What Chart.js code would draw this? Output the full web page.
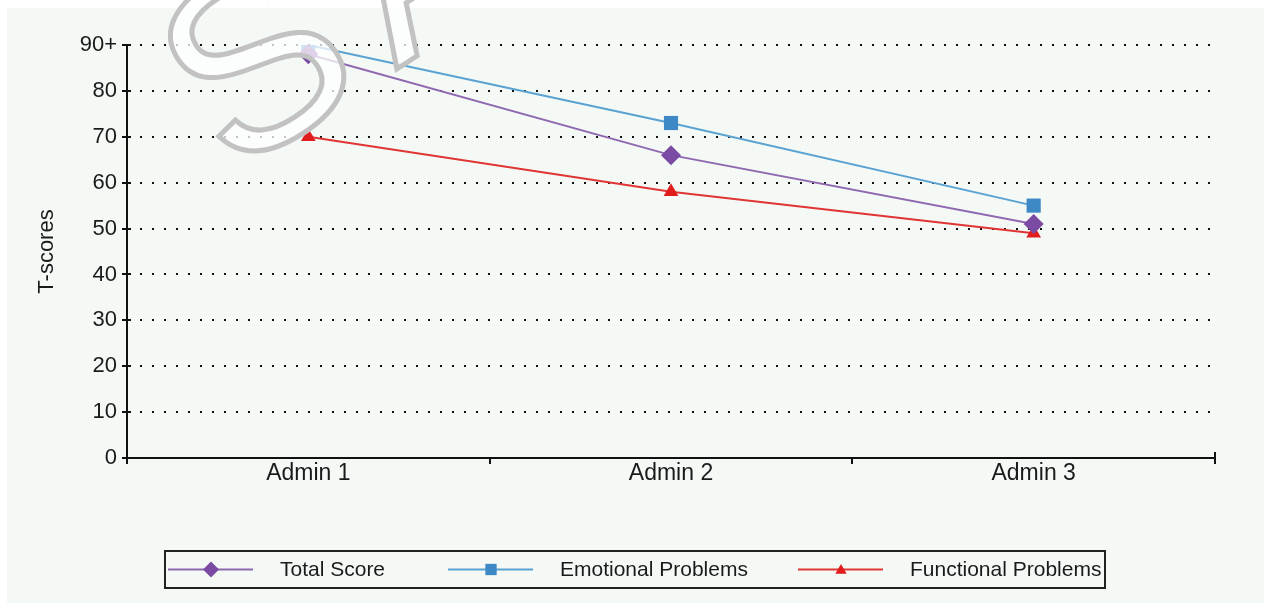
<!DOCTYPE html>
<html>
<head>
<meta charset="utf-8">
<script src="https://cdn.jsdelivr.net/npm/chart.js@4/dist/chart.umd.min.js"></script>
<style>
  html, body { margin: 0; padding: 0; background: #fff; }
  #wrap { width: 1264px; height: 603px; }
</style>
</head>
<body>
<div id="wrap"><canvas id="tscores"></canvas></div>
<script>
// chart data
const admins = ['Admin 1', 'Admin 2', 'Admin 3'];
const totalScore = [88, 66, 51];
const emotionalProblems = [90, 73, 55];
const functionalProblems = [70, 58, 49];
const yTicks = [0, 10, 20, 30, 40, 50, 60, 70, 80, 90];

const FONT = "'Liberation Sans', Arial, sans-serif";

// light panel behind the chart
const panelBg = {
    id: 'panelBg',
    beforeDraw(chart) {
        const ctx = chart.ctx;
        ctx.save();
        ctx.fillStyle = '#f4f9f6';
        ctx.fillRect(7, 8, chart.width - 7, chart.height - 8);
        ctx.restore();
    }
};

// y ticks that cross the axis, and the end cap on the x axis
const axisTicks = {
    id: 'axisTicks',
    afterDatasetsDraw(chart) {
        const ctx = chart.ctx;
        const y = chart.scales.y;
        const area = chart.chartArea;
        ctx.save();
        ctx.strokeStyle = '#111';
        ctx.lineWidth = 2;
        yTicks.forEach(v => {
            const py = Math.round(y.getPixelForValue(v));
            ctx.beginPath();
            ctx.moveTo(area.left - 5, py);
            ctx.lineTo(area.left + 4, py);
            ctx.stroke();
        });
        ctx.beginPath();
        ctx.moveTo(area.right, area.bottom - 6);
        ctx.lineTo(area.right, area.bottom + 6);
        ctx.stroke();
        ctx.restore();
    }
};

// legend box with line + marker samples
const boxLegend = {
    id: 'boxLegend',
    afterDraw(chart) {
        const ctx = chart.ctx;
        const left = 165, top = 551, w = 940, h = 37;
        const starts = [168, 448, 798];
        ctx.save();
        ctx.strokeStyle = '#222';
        ctx.lineWidth = 2;
        ctx.strokeRect(left, top, w, h);
        const cy = top + h / 2;
        chart.data.datasets.forEach((ds, i) => {
            const x0 = starts[i];
            ctx.strokeStyle = ds.borderColor;
            ctx.lineWidth = 2;
            ctx.beginPath();
            ctx.moveTo(x0, cy);
            ctx.lineTo(x0 + 85, cy);
            ctx.stroke();
            ctx.fillStyle = ds.pointBackgroundColor;
            Chart.helpers.drawPoint(ctx, {
                pointStyle: ds.pointStyle,
                rotation: 0,
                radius: ds.pointRadius - 2,
                borderWidth: 0
            }, x0 + 43, cy + (ds.pointStyle === 'triangle' ? 1 : 0));
            ctx.fillStyle = '#1a1a1a';
            ctx.font = '21px ' + FONT;
            ctx.textBaseline = 'middle';
            ctx.fillText(ds.label, x0 + 112, cy + 1);
        });
        ctx.restore();
    }
};

// faint "SAMPLE" watermark
const watermark = {
    id: 'watermark',
    afterDraw(chart) {
        const ctx = chart.ctx;
        ctx.save();
        ctx.translate(232, 177);
        ctx.rotate(-0.58);
        ctx.font = "250px 'Liberation Sans', Arial, sans-serif";
        ctx.letterSpacing = '30px';
        ctx.fillStyle = 'rgba(255,255,255,0.75)';
        ctx.fillText('SAMPLE', 0, 0);
        ctx.strokeStyle = '#c2c2c2';
        ctx.lineWidth = 5;
        ctx.strokeText('SAMPLE', 0, 0);
        ctx.restore();
    }
};

new Chart(document.getElementById('tscores'), {
    type: 'line',
    data: {
        labels: admins,
        datasets: [
            {
                label: 'Total Score',
                data: totalScore,
                borderColor: '#9068b0',
                pointBackgroundColor: '#7b4aa3',
                pointBorderWidth: 0,
                pointStyle: 'rectRot',
                pointRadius: 10,
                borderWidth: 2
            },
            {
                label: 'Emotional Problems',
                data: emotionalProblems,
                borderColor: '#5aa2d2',
                pointBackgroundColor: '#3f88c6',
                pointBorderWidth: 0,
                pointStyle: 'rect',
                pointRadius: 10,
                borderWidth: 2
            },
            {
                label: 'Functional Problems',
                data: functionalProblems,
                borderColor: '#e03535',
                pointBackgroundColor: '#e01c1c',
                pointBorderWidth: 0,
                pointStyle: 'triangle',
                pointRadius: 8.5,
                borderWidth: 2
            }
        ]
    },
    options: {
        responsive: true,
        maintainAspectRatio: false,
        animation: false,
        layout: { padding: { top: 45, right: 49, left: 0, bottom: 0 } },
        plugins: {
            legend: { display: false },
            tooltip: { enabled: false }
        },
        scales: {
            x: {
                offset: true,
                afterFit: s => { s.height = 145; },
                grid: {
                    offset: true,
                    drawOnChartArea: false,
                    drawTicks: true,
                    tickLength: 6,
                    color: '#111',
                    lineWidth: 2
                },
                border: { display: true, color: '#111', width: 2 },
                ticks: {
                    color: '#1a1a1a',
                    font: { family: FONT, size: 23 },
                    padding: -4
                }
            },
            y: {
                min: 0,
                max: 90,
                afterFit: s => { s.width = 127; },
                afterBuildTicks: s => { s.ticks = yTicks.map(v => ({ value: v })); },
                grid: {
                    drawTicks: false,
                    color: ctx => ctx.tick && ctx.tick.value === 0 ? 'rgba(0,0,0,0)' : '#111',
                    lineWidth: 2
                },
                border: { display: true, color: '#111', width: 2, dash: [2, 10] },
                ticks: {
                    color: '#1a1a1a',
                    font: { family: FONT, size: 22 },
                    padding: 10,
                    callback: v => v === 90 ? '90+' : v
                },
                title: {
                    display: true,
                    text: 'T-scores',
                    color: '#1a1a1a',
                    font: { family: FONT, size: 22 },
                    padding: { top: 34, bottom: 0 }
                }
            }
        }
    },
    plugins: [panelBg, axisTicks, boxLegend, watermark]
});
</script>
</body>
</html>
